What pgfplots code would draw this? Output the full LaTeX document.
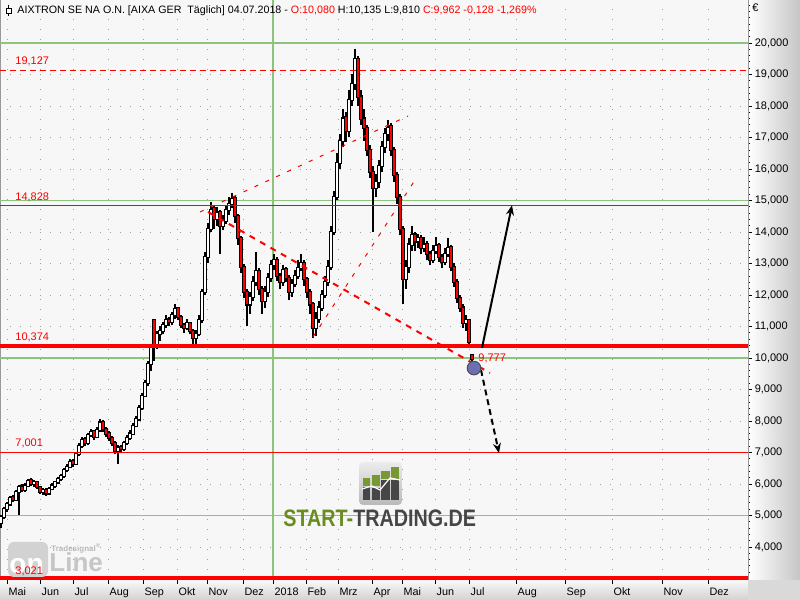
\documentclass[border=0pt]{standalone}
\usepackage{fontspec}
\setmainfont{Liberation Sans}
\usepackage{graphicx}
\usepackage{pgfplots}
\pgfplotsset{compat=1.18}
\usepackage{pgfplotstable}
\usetikzlibrary{arrows.meta}

\definecolor{bgc}{RGB}{247,247,247}
\definecolor{gridgreen}{RGB}{140,195,125}
\definecolor{stgreen}{RGB}{105,140,30}
\definecolor{stgray}{RGB}{70,70,70}
\definecolor{circblue}{RGB}{110,110,180}

% daily candles, x in chart pixels (every 3rd session), price in EUR
\pgfplotstableread{
x o h l c
1 4.75 5.00 4.60 4.95
4 4.95 5.28 4.90 5.20
7 5.20 5.42 5.12 5.35
10 5.35 5.62 5.30 5.55
13 5.58 5.66 5.44 5.50
16 5.50 5.82 5.46 5.75
19 5.75 5.98 5.00 5.90
22 5.92 6.00 5.74 5.80
25 5.80 6.02 5.76 5.95
28 5.95 6.16 5.90 6.10
31 6.12 6.18 5.94 6.00
34 6.00 6.12 5.92 6.05
37 6.05 6.10 5.84 5.90
40 5.90 5.95 5.68 5.75
43 5.75 5.88 5.66 5.80
46 5.82 5.86 5.62 5.70
49 5.70 5.92 5.66 5.85
52 5.85 6.02 5.80 5.95
55 5.95 6.10 5.88 6.05
58 6.05 6.22 6.00 6.15
61 6.15 6.32 6.10 6.25
64 6.25 6.52 6.20 6.45
67 6.45 6.62 6.38 6.55
70 6.55 6.80 6.50 6.70
73 6.72 6.78 6.55 6.65
76 6.65 7.02 6.60 6.95
79 6.95 7.30 6.90 7.20
82 7.20 7.50 7.15 7.40
85 7.42 7.48 7.20 7.30
88 7.30 7.62 7.25 7.55
91 7.55 7.75 7.48 7.65
94 7.68 7.72 7.40 7.50
97 7.50 7.80 7.45 7.70
100 7.70 8.05 7.65 7.95
103 7.98 8.02 7.66 7.75
106 7.75 7.82 7.50 7.60
109 7.62 7.68 7.36 7.45
112 7.45 7.52 7.20 7.30
115 7.30 7.36 6.95 7.05
118 7.05 7.25 6.65 7.15
121 7.18 7.24 6.98 7.10
124 7.10 7.38 7.05 7.30
127 7.30 7.55 7.25 7.45
130 7.45 7.70 7.40 7.60
133 7.60 7.95 7.55 7.85
136 7.85 8.15 7.80 8.05
139 8.05 8.50 8.00 8.40
142 8.40 8.90 8.35 8.80
145 8.80 9.30 8.75 9.20
148 9.20 9.90 9.10 9.80
151 9.80 10.45 9.60 10.35
154 11.20 11.25 9.90 10.45
157 10.45 10.85 10.30 10.75
160 10.75 11.00 10.55 10.85
163 10.85 11.15 10.75 11.05
166 11.05 11.35 10.95 11.20
169 11.22 11.30 11.00 11.15
172 11.15 11.45 11.05 11.35
175 11.35 11.70 11.25 11.55
178 11.58 11.62 11.20 11.30
181 11.30 11.36 10.95 11.05
184 11.05 11.12 10.80 10.95
187 10.95 11.25 10.88 11.10
190 11.10 11.15 10.75 10.85
193 10.85 10.92 10.45 10.65
196 10.65 10.90 10.45 10.75
199 10.75 11.35 10.70 11.20
202 11.20 12.20 11.10 12.10
205 12.10 13.35 12.00 13.20
208 13.20 14.30 13.00 14.10
211 14.10 14.95 14.00 14.70
214 14.75 14.85 14.10 14.40
217 14.40 14.80 14.20 14.60
220 14.62 14.70 13.30 14.20
223 14.20 14.55 14.05 14.35
226 14.35 14.85 14.25 14.70
229 14.70 15.10 14.55 14.90
232 14.90 15.25 14.75 15.05
235 15.08 15.15 14.30 14.50
238 14.50 14.58 13.60 13.80
241 13.80 13.88 12.70 12.90
244 12.90 12.98 11.90 12.10
247 12.10 12.20 11.00 11.70
250 11.70 12.10 11.40 11.95
253 11.95 12.60 11.80 12.40
256 12.40 13.35 12.30 12.75
259 12.75 12.85 12.00 12.20
262 12.20 12.30 11.40 11.80
265 11.80 12.30 11.60 12.10
268 12.10 12.70 11.95 12.55
271 12.55 13.10 12.40 12.95
274 12.95 13.30 12.80 13.10
277 13.12 13.20 12.45 12.60
280 12.60 12.70 12.20 12.40
283 12.40 12.95 12.30 12.80
286 12.82 12.90 12.40 12.55
289 12.55 12.62 11.85 12.10
292 12.10 12.50 11.95 12.35
295 12.35 12.80 12.25 12.60
298 12.60 13.10 12.50 12.85
301 12.85 13.30 12.75 13.00
304 13.02 13.10 12.30 12.50
307 12.50 12.58 11.90 12.10
310 12.10 12.20 11.40 11.70
313 11.70 11.78 10.65 10.95
316 10.95 11.45 10.70 11.25
319 11.25 11.80 11.10 11.60
322 11.60 12.15 11.50 12.00
325 12.00 12.60 11.90 12.40
328 12.40 13.10 12.30 12.90
331 12.90 14.20 12.80 14.00
334 14.00 15.30 13.90 15.10
337 15.10 16.50 15.00 16.20
340 16.20 17.10 16.00 16.90
343 16.90 17.90 16.70 17.60
346 17.65 17.80 16.85 17.20
349 17.20 18.50 17.00 18.20
352 18.20 19.00 18.00 18.70
355 18.70 19.80 18.50 19.50
358 19.50 19.60 18.00 18.30
361 18.30 18.50 17.40 17.60
364 17.60 17.90 16.90 17.30
367 17.30 17.40 16.40 16.60
370 16.60 16.75 15.70 15.90
373 15.90 16.10 14.00 15.40
376 15.40 15.85 15.10 15.60
379 15.60 16.30 15.40 16.10
382 16.10 16.90 15.90 16.70
385 16.70 17.30 16.50 17.10
388 17.10 17.55 16.90 17.30
391 17.35 17.45 16.40 16.60
394 16.60 16.70 15.60 15.80
397 15.80 15.90 14.90 15.10
400 15.10 15.20 13.90 14.10
403 14.10 14.20 11.70 12.50
406 12.50 13.10 12.20 12.90
409 12.90 13.80 12.70 13.60
412 13.60 14.20 13.40 13.90
415 13.92 14.00 13.40 13.70
418 13.70 13.95 13.50 13.80
421 13.82 13.90 13.30 13.50
424 13.50 13.85 13.35 13.60
427 13.62 13.70 13.10 13.30
430 13.30 13.40 12.95 13.10
433 13.10 13.60 13.00 13.40
436 13.40 13.85 13.30 13.55
439 13.58 13.65 13.05 13.20
442 13.20 13.30 12.85 13.05
445 13.05 13.50 12.95 13.30
448 13.30 13.80 13.20 13.50
451 13.52 13.60 12.75 12.90
454 12.90 13.00 12.25 12.40
457 12.40 12.50 11.75 11.90
460 11.90 12.00 11.45 11.60
463 11.60 11.70 10.95 11.10
466 11.10 11.35 10.85 11.20
469 11.20 11.25 10.35 10.50
472 10.08 10.135 9.81 9.962
}\candles

\begin{document}
\begin{tikzpicture}
\useasboundingbox (0,0) rectangle (400pt,300pt);
% side panels
\shade[left color=white, right color=gray!45] (374pt,10pt) rectangle (400pt,300pt);
\shade[top color=gray!5, bottom color=gray!35] (0,0) rectangle (374pt,10pt);
\fill[gray!30] (374pt,0) rectangle (400pt,10pt);

\begin{axis}[
  at={(0pt,10pt)}, anchor=south west,
  scale only axis, width=374pt, height=290pt,
  xmin=0, xmax=748, ymin=2.952, ymax=21.365,
  axis background/.style={fill=bgc},
  axis line style={draw=gray!80, line width=0.5pt},
  tick align=outside,
  xtick pos=bottom, ytick pos=right,
  major tick length=2pt, minor tick length=1pt,
  tick style={black, line width=0.4pt},
  xtick={7,40,73,108,143,177,207,243,273,306,338,372,402,435,469,516,565,612,662,708},
  xticklabels={Mai,Jun,Jul,Aug,Sep,Okt,Nov,Dez,2018,Feb,Mrz,Apr,Mai,Jun,Jul,Aug,Sep,Okt,Nov,Dez},
  xticklabel style={anchor=north west, inner sep=0pt, xshift=0.6pt, yshift=-1.6pt,
    font=\fontsize{5.4}{6}\selectfont},
  ytick={4,...,20},
  minor ytick={3.2,3.4,...,21.2},
  yticklabel pos=right,
  yticklabel style={anchor=west, inner sep=0pt, xshift=1.2pt,
    font=\fontsize{5.5}{6}\selectfont,
    /pgf/number format/.cd, fixed, fixed zerofill, precision=3, use comma, 1000 sep={},
    assume math mode=true},
  grid=major,
  major grid style={gray!75, line width=0.4pt, dash pattern=on 0.6pt off 4.4pt},
  clip=true,
]
% green reference lines
\draw[gridgreen, line width=0.55pt] (axis cs:0,5) -- (axis cs:748,5);
\draw[gridgreen, line width=0.55pt] (axis cs:0,10) -- (axis cs:748,10);
\draw[gridgreen, line width=0.55pt] (axis cs:0,15) -- (axis cs:748,15);
\draw[gridgreen, line width=0.55pt] (axis cs:0,20) -- (axis cs:748,20);
\draw[gridgreen, line width=0.55pt] (axis cs:273,2.9) -- (axis cs:273,21.4);

% candles: wick, body outline, body fill
\addplot[black, line width=0.6pt, quiver={u=0, v=\thisrow{h}-\thisrow{l}}]
  table[x=x, y=l] {\candles};
\addplot[black, line width=2.4pt, quiver={u=0, v=abs(\thisrow{c}-\thisrow{o})+0.07}]
  table[x=x, y expr={min(\thisrow{o},\thisrow{c})-0.035}] {\candles};
\addplot[white, line width=1.1pt, quiver={u=0, v=\thisrow{c}-\thisrow{o}},
  restrict expr to domain={\thisrow{c}-\thisrow{o}}{0:100}]
  table[x=x, y=o] {\candles};
\addplot[red, line width=1.2pt, quiver={u=0, v=\thisrow{c}-\thisrow{o}},
  restrict expr to domain={\thisrow{o}-\thisrow{c}}{0.0001:100}]
  table[x=x, y=o] {\candles};

% horizontal levels
\draw[red, line width=0.5pt, dash pattern=on 3pt off 2pt] (axis cs:0,19.127) -- (axis cs:748,19.127);
\draw[red, line width=0.5pt] (axis cs:0,14.828) -- (axis cs:748,14.828);
\draw[red, line width=1.75pt] (axis cs:0,10.374) -- (axis cs:748,10.374);
\draw[red, line width=0.5pt] (axis cs:0,7.001) -- (axis cs:748,7.001);
\draw[red, line width=1.75pt] (axis cs:0,3.021) -- (axis cs:748,3.021);
\begin{scope}[every node/.style={red, anchor=south west, inner sep=0pt, font=\fontsize{5.5}{6}\selectfont}]
\node at (axis cs:15,19.25) {19,127};
\node at (axis cs:15,14.95) {14,828};
\node at (axis cs:15,10.5) {10,374};
\node at (axis cs:15,7.12) {7,001};
\end{scope}

% trend lines
\draw[red, line width=1pt, dash pattern=on 3pt off 3pt] (axis cs:208,14.635) -- (axis cs:490,9.524);
\draw[red, line width=0.5pt, dash pattern=on 2pt off 4pt] (axis cs:200,14.635) -- (axis cs:408,17.683);
\draw[red, line width=0.5pt, dash pattern=on 2pt off 4pt] (axis cs:313,10.667) -- (axis cs:417,15.746);

% scenario arrows
\draw[black, line width=1pt, -{Stealth[length=5pt,width=4pt]}] (axis cs:482,10.32) -- (axis cs:512,14.85);
\draw[black, line width=1pt, dash pattern=on 3pt off 2pt, -{Stealth[length=5pt,width=4pt]}] (axis cs:481,9.62) -- (axis cs:499,6.98);

\addplot[only marks, mark=*, mark size=3.4pt, mark options={fill=circblue, draw=black!70, line width=0.5pt}]
  coordinates {(474,9.68)};
\node[red, anchor=west, inner sep=0pt, font=\fontsize{5.5}{6}\selectfont] at (axis cs:478,10.0) {9,777};
\end{axis}

% overlays in pixel coordinates
\begin{scope}[x=0.5pt, y=-0.5pt, shift={(0pt,300pt)}]
\draw[gray!80, line width=0.5pt] (748,0) -- (748,580);
% title
\draw[black, line width=0.4pt] (8.5,5) -- (8.5,16);
\draw[black, line width=0.4pt, fill=white] (6,8) rectangle (11,13);
\node[anchor=west, inner sep=0pt, font=\fontsize{5.35}{6}\selectfont] at (17,10.5)
  {AIXTRON SE NA O.N. [AIXA GER\ \ Täglich] 04.07.2018 - \textcolor{red}{O:10,080} H:10,135 L:9,810 \textcolor{red}{C:9,962 -0,128 -1,269\%}};
\node[anchor=west, inner sep=0pt, font=\fontsize{5.5}{6}\selectfont] at (752,8) {€};
% start-trading logo
\shade[top color=gray!15, bottom color=gray!55, rounded corners=2pt] (359,462) rectangle (402,505);
\fill[stgray] (363,487) rectangle (370,500);
\fill[stgray] (372,488) rectangle (380,500);
\fill[stgray] (381,480) rectangle (390,500);
\fill[stgray] (391,480) rectangle (399,500);
\fill[stgreen!90] (363,478) rectangle (370,486);
\fill[stgreen!90] (372,475) rectangle (380,486);
\fill[stgreen!90] (381,471) rectangle (390,479);
\fill[stgreen!90] (391,467) rectangle (399,479);
\draw[white, line width=0.6pt] (362,489) -- (372,486) -- (380,490) -- (390,478) -- (400,480);
\node[anchor=base west, inner sep=0pt, font=\bfseries\fontsize{11.9}{12}\selectfont] at (283,527)
  {\scalebox{0.83}[1]{\textcolor{stgreen}{START-}\textcolor{stgray}{TRADING.DE}}};
% tradesignal online watermark
\fill[gray!35, rounded corners=3pt] (8,542) rectangle (48,577);
\node[anchor=base west, inner sep=0pt, white, font=\bfseries\fontsize{14}{14}\selectfont] at (9,574) {on};
\node[anchor=base west, inner sep=0pt, gray!45, font=\bfseries\fontsize{13}{13}\selectfont] at (49,572) {Line};
\node[anchor=base west, inner sep=0pt, gray!55, font=\bfseries\fontsize{4}{4}\selectfont] at (51,552) {Tradesignal\textsuperscript{®}};
% level label drawn over the watermark
\node[red, anchor=base west, inner sep=0pt, font=\fontsize{5.5}{6}\selectfont] at (15,575) {3,021};
\end{scope}
\end{tikzpicture}
\end{document}
